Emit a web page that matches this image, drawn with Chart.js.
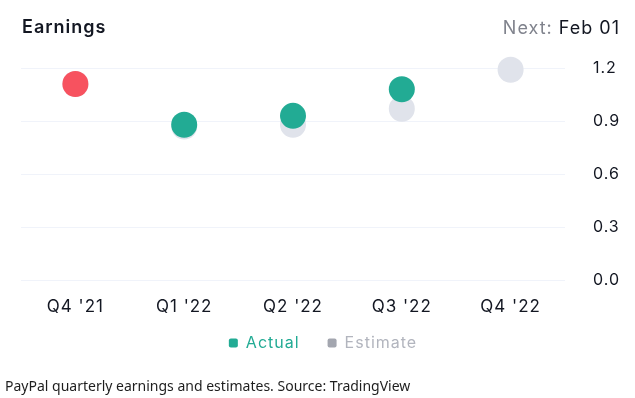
<!DOCTYPE html>
<html>
<head>
<meta charset="utf-8">
<script src="https://cdn.jsdelivr.net/npm/chart.js@4"></script>
<style>
  html,body{margin:0;padding:0;background:#fff;}
  #wrap{position:relative;width:635px;height:398px;background:#fff;overflow:hidden;}
  #title{position:absolute;left:22px;top:18px;font:600 18px/18px Inter,sans-serif;color:#131722;letter-spacing:1px;}
  #next{position:absolute;right:15px;top:19px;font:400 18px/18px Inter,sans-serif;color:#131722;letter-spacing:1px;}
  #next span{color:#80838d;}
  #cap{position:absolute;left:5px;top:378px;font:400 14px/15px 'Noto Sans',sans-serif;color:#1e1e1e;white-space:nowrap;}
  canvas{position:absolute;left:0;top:0;}
</style>
</head>
<body>
<div id="wrap">
  <canvas id="c" width="635" height="398"></canvas>
  <div id="title">Earnings</div>
  <div id="next"><span>Next:</span> Feb 01</div>
  <div id="cap">PayPal quarterly earnings and estimates. Source: TradingView</div>
</div>
<script>
const categories = ["Q4 '21", "Q1 '22", "Q2 '22", "Q3 '22", "Q4 '22"];
const actualEPS = [1.11, 0.88, 0.93, 1.08, null];
const estimateEPS = [1.11, 0.87, 0.88, 0.97, 1.19];
const beatEstimate = [false, true, true, true, null];
const yTicks = [0, 0.3, 0.6, 0.9, 1.2];
const seriesNames = ["Actual", "Estimate"];

const GREEN = '#22ab94', RED = '#f7525f', EST = '#e0e3eb';
const actualColors = beatEstimate.map(b => b === false ? RED : GREEN);
const legendBox = [GREEN, '#a3a6af'];
const legendText = [GREEN, '#b2b5be'];

const tweaks = {
  id: 'tweaks',
  afterLayout(c) {
    if (c.legend) {
      c.legend.top -= 26; c.legend.bottom -= 26;
      c.legend.left -= 12; c.legend.right -= 12;
    }
  },
  beforeDraw(c) { c.ctx.letterSpacing = '1px'; }
};

new Chart(document.getElementById('c'), {
  type: 'line',
  data: {
    labels: categories,
    datasets: [
      { label: seriesNames[0], data: actualEPS, showLine: false, pointRadius: 13, pointHoverRadius: 13,
        pointBackgroundColor: actualColors, pointBorderWidth: 0, borderColor: GREEN, clip: false },
      { label: seriesNames[1], data: estimateEPS, showLine: false, pointRadius: 13, pointHoverRadius: 13,
        pointBackgroundColor: EST, pointBorderWidth: 0, borderColor: EST, clip: false }
    ]
  },
  options: {
    responsive: false,
    animation: false,
    devicePixelRatio: 1,
    layout: { padding: { top: 68, left: 21, right: 0, bottom: 11 } },
    plugins: {
      tooltip: { enabled: false },
      legend: {
        position: 'bottom',
        labels: {
          boxWidth: 9, boxHeight: 9, padding: 28, useBorderRadius: true, borderRadius: 2,
          font: { family: 'Inter', size: 16 },
          generateLabels: (chart) => chart.data.datasets.map((d, i) => ({
            text: d.label, fillStyle: legendBox[i], strokeStyle: legendBox[i], lineWidth: 0,
            fontColor: legendText[i], borderRadius: 2, datasetIndex: i, hidden: false
          }))
        }
      }
    },
    scales: {
      x: {
        offset: true,
        grid: { display: false, drawTicks: false },
        border: { display: false },
        ticks: { padding: 16, color: '#131722', font: { family: 'Inter', size: 17 } }
      },
      y: {
        position: 'right',
        min: 0, max: 1.2,
        afterBuildTicks: (s) => { s.ticks = yTicks.map(v => ({ value: v })); },
        grid: { color: '#f0f3fa', lineWidth: 1, drawTicks: false },
        border: { display: false },
        ticks: { padding: 28, color: '#131722', font: { family: 'Inter', size: 16 }, callback: (v) => Number(v).toFixed(1) },
        afterFit: (s) => { s.width = 70; }
      }
    }
  },
  plugins: [tweaks]
});
</script>
</body>
</html>
